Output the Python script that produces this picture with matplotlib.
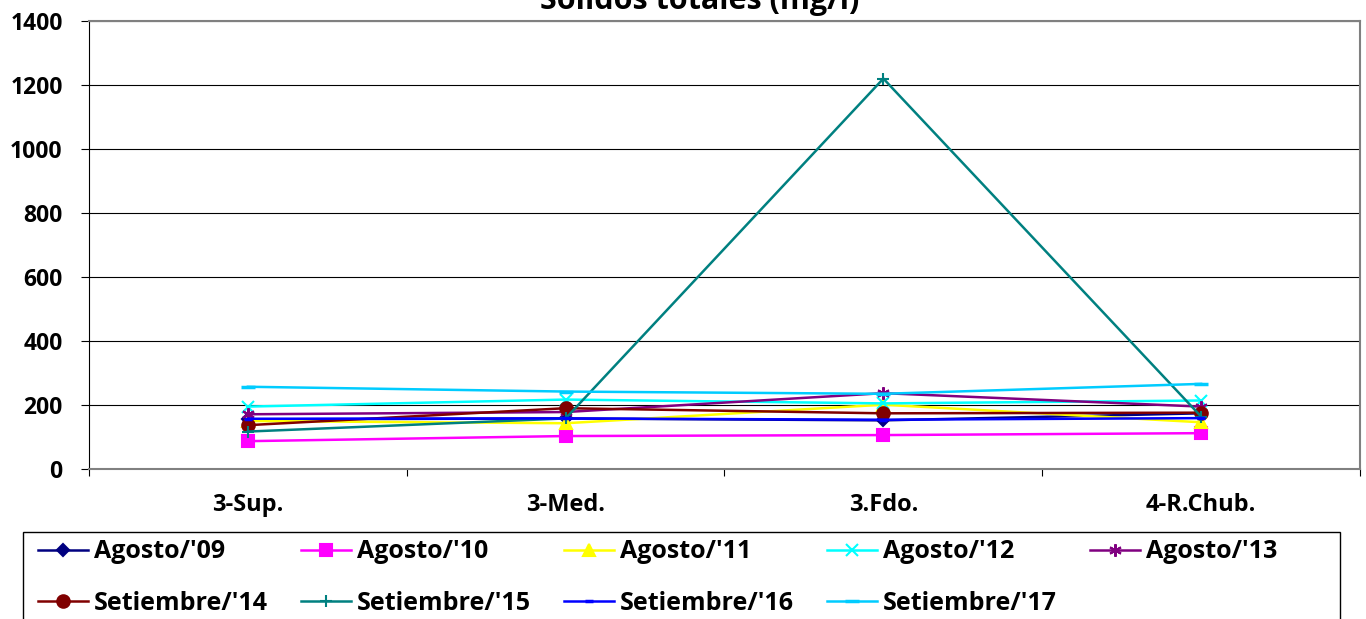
import numpy as np
import matplotlib
matplotlib.use("Agg")
import matplotlib.pyplot as plt
from matplotlib.patches import Rectangle
from matplotlib.ticker import FixedLocator

plt.rcParams['font.family'] = ['Open Sans', 'DejaVu Sans']
plt.rcParams['font.weight'] = 'bold'

# Sampling points and total solids (mg/l) per campaign
stations = ["3-Sup.", "3-Med.", "3.Fdo.", "4-R.Chub."]

agosto_09 = [155, 158, 152, 174]
agosto_10 = [87, 103, 106, 112]
agosto_11 = [150, 143, 201, 146]
agosto_12 = [195, 217, 205, 214]
agosto_13 = [171, 178, 237, 195]
setiembre_14 = [137, 190, 174, 176]
setiembre_15 = [117, 158, 1220, 164]
setiembre_16 = [157, 158, 154, 159]
setiembre_17 = [257, 242, 235, 266]

series = [
    ("Agosto/'09", agosto_09, "#000080", "D", 6),
    ("Agosto/'10", agosto_10, "#FF00FF", "s", 8),
    ("Agosto/'11", agosto_11, "#FFFF00", "^", 8),
    ("Agosto/'12", agosto_12, "#00FFFF", "x", 8),
    ("Agosto/'13", agosto_13, "#800080", (6, 2, 0), 9),
    ("Setiembre/'14", setiembre_14, "#800000", "o", 9),
    ("Setiembre/'15", setiembre_15, "#008080", "+", 8),
    ("Setiembre/'16", setiembre_16, "#0000FF", "_", 6),
    ("Setiembre/'17", setiembre_17, "#00CCFF", "_", 10),
]

W, H = 1366, 619
fig = plt.figure(figsize=(W / 100, H / 100), dpi=100)
ax = fig.add_axes([89 / W, 1 - 469 / H, (1360 - 89) / W, (469 - 21) / H])

x = np.arange(len(stations))
handles = []
for label, vals, color, marker, ms in series:
    mew = 2.5 if marker == "_" else 1.5
    h, = ax.plot(x, vals, color=color, lw=1.8, marker=marker, ms=ms,
                 mec=color, mfc=color, mew=mew, label=label)
    handles.append(h)

ax.set_xlim(-0.5, len(stations) - 0.5)
ax.set_ylim(0, 1400)
ax.set_yticks(np.arange(0, 1401, 200))
ax.yaxis.grid(True, color="black", lw=0.8)
ax.set_axisbelow(True)

ax.set_xticks(x)
ax.set_xticklabels(stations, fontsize=17, fontweight="bold")
ax.xaxis.set_minor_locator(FixedLocator(np.arange(-0.5, len(stations), 1.0)))
ax.tick_params(axis="x", which="major", length=0, pad=17)
ax.tick_params(axis="x", which="minor", length=5, width=0.8, direction="out")
ax.tick_params(axis="y", length=6, width=0.8, pad=13, labelsize=16.5)
for lbl in ax.get_yticklabels():
    lbl.set_fontweight("bold")

for side in ("top", "right", "bottom"):
    ax.spines[side].set_color("#808080")
    ax.spines[side].set_linewidth(1.5)
ax.spines["left"].set_color("black")

fig.text(0.512, 1 - 9 / H, "Sólidos totales (mg/l)", ha="center",
         va="baseline", fontsize=22, fontweight="bold")

# legend frame, running off the bottom edge
fig.patches.append(Rectangle((23 / W, -0.05), (1340 - 23) / W, 1 - 532 / H + 0.05,
                             transform=fig.transFigure, fill=False,
                             edgecolor="black", lw=1.0))

# legend filled row by row: 5 entries on top, 4 below
order = [0, 5, 1, 6, 2, 7, 3, 8, 4]
leg = fig.legend([handles[i] for i in order], [series[i][0] for i in order],
                 loc="upper left",
                 bbox_to_anchor=(30 / W, 0.0, (1285 - 30) / W, 1 - 532 / H),
                 ncol=5, frameon=False, fontsize=18, handlelength=2.0,
                 handletextpad=0.25, columnspacing=1.0, borderaxespad=0,
                 labelspacing=1.05, borderpad=0.3, mode="expand")
for t in leg.get_texts():
    t.set_fontweight("bold")

fig.savefig("out.png", dpi=100)
